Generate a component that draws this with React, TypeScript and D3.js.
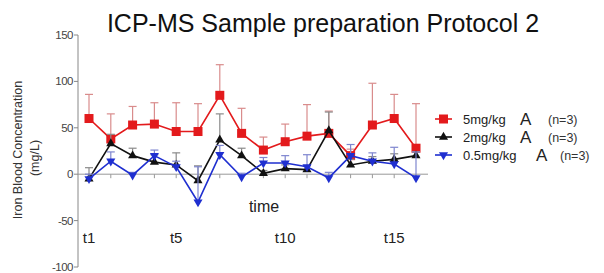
import React from 'react';
import * as d3 from 'd3';

const timeLabels = ['t1', 't5', 't10', 't15'];
const timeIndex = [1, 5, 10, 15];
const yTicks = [-100, -50, 0, 50, 100, 150];

const points = d3.range(1, 17);

const high = [60, 38, 53, 54, 46, 46, 85, 44, 26, 35, 41, 44, 20, 53, 60, 28];
const highSd = [26, 27, 20, 23, 31, 30, 33, 27, 14, 19, 34, 24, 7, 45, 26, 48];

const mid = [-5, 33, 20, 13, 10, -7, 37, 20, 1, 6, 5, 47, 10, 14, 16, 20];
const midSd = [12, 10, 8, 8, 13, 16, 28, 8, 3, 4, 4, 20, 6, 5, 6, 4];

const low = [-5, 14, -1, 20, 8, -30, 21, -3, 12, 12, 8, -4, 20, 14, 11, -4];
const lowSd = [5, 10, 3, 6, 6, 38, 10, 4, 6, 8, 13, 6, 12, 9, 18, 28];

const seriesNames = ['5mg/kg', '2mg/kg', '0.5mg/kg'];
const seriesN = ['(n=3)', '(n=3)', '(n=3)'];

const font = '"Liberation Sans", Arial, sans-serif';

const x = d3.scaleLinear().domain([1, 16]).range([89, 416]);
const y = d3.scaleLinear().domain([-100, 150]).range([267, 35]);

const series = [
  {name: seriesNames[0], n: seriesN[0], values: high, sd: highSd, color: '#e31a1c', err: '#d98c8c', shape: 'square'},
  {name: seriesNames[1], n: seriesN[1], values: mid, sd: midSd, color: '#111111', err: '#8a8a8a', shape: 'up'},
  {name: seriesNames[2], n: seriesN[2], values: low, sd: lowSd, color: '#1f2fd0', err: '#7f86cf', shape: 'down'},
];

function Marker({shape, cx, cy, color}: {shape: string; cx: number; cy: number; color: string}) {
  if (shape === 'square') return <rect x={cx - 4.5} y={cy - 4.5} width={9} height={9} fill={color} />;
  const sym = d3.symbol().type(d3.symbolTriangle).size(36)();
  return <path d={sym || ''} fill={color} transform={`translate(${cx},${cy})${shape === 'down' ? ' rotate(180)' : ''}`} />;
}

export default function App() {
  const line = d3.line<number>().x((_, i) => x(points[i])).y(d => y(d));
  return (
    <svg width={604} height={273} style={{position: 'absolute', left: 0, top: 0, background: '#fff'}} fontFamily={font}>
      <text x={323} y={32} textAnchor="middle" fontSize={25} fill="#111">ICP-MS Sample preparation Protocol 2</text>

      {/* y axis */}
      <line x1={78} x2={78} y1={y(150)} y2={y(-100)} stroke="#888" />
      {yTicks.map(t => (
        <g key={t}>
          <line x1={74} x2={78} y1={y(t)} y2={y(t)} stroke="#888" />
          <text x={73} y={y(t) + 4} textAnchor="end" fontSize={11.5} fill="#444" letterSpacing={-0.5}>{t}</text>
        </g>
      ))}
      <text transform={`translate(22,150) rotate(-90)`} textAnchor="middle" fontSize={12.5} fill="#333">Iron Blood Concentration</text>
      <text transform={`translate(39,158) rotate(-90)`} textAnchor="middle" fontSize={12.5} fill="#333">(mg/L)</text>

      {/* x axis at zero */}
      <line x1={78} x2={428} y1={y(0)} y2={y(0)} stroke="#999" />
      {points.map(p => (
        <line key={p} x1={x(p)} x2={x(p)} y1={y(0)} y2={y(0) + 4} stroke="#999" />
      ))}
      {timeLabels.map((t, i) => (
        <text key={t} x={x(timeIndex[i])} y={243} textAnchor="middle" fontSize={15} fill="#222">{t}</text>
      ))}
      <text x={264} y={212} textAnchor="middle" fontSize={16} fill="#222">time</text>

      {series.map(s => (
        <g key={s.name}>
          {s.values.map((v, i) => (
            <g key={i} stroke={s.err} strokeWidth={1.2}>
              <line x1={x(points[i])} x2={x(points[i])} y1={y(v)} y2={y(v + s.sd[i])} />
              <line x1={x(points[i]) - 4} x2={x(points[i]) + 4} y1={y(v + s.sd[i])} y2={y(v + s.sd[i])} />
            </g>
          ))}
          <path d={line(s.values) || ''} fill="none" stroke={s.color} strokeWidth={1.6} />
          {s.values.map((v, i) => (
            <Marker key={i} shape={s.shape} cx={x(points[i])} cy={y(v)} color={s.color} />
          ))}
        </g>
      ))}

      {/* legend */}
      {series.map((s, i) => {
        const ly = 119 + i * 18;
        const aX = i === 2 ? 536 : 520;
        const nX = i === 2 ? 560 : 548;
        return (
          <g key={s.name}>
            <line x1={435} x2={452} y1={ly} y2={ly} stroke={s.color} strokeWidth={1.6} />
            <Marker shape={s.shape} cx={443.5} cy={ly} color={s.color} />
            <text x={463} y={ly + 4.5} fontSize={13} fill="#222">{s.name}</text>
            <text x={aX} y={ly + 5.5} fontSize={17} fill="#222">A</text>
            <text x={nX} y={ly + 4.5} fontSize={12.5} fill="#333">{s.n}</text>
          </g>
        );
      })}
    </svg>
  );
}
